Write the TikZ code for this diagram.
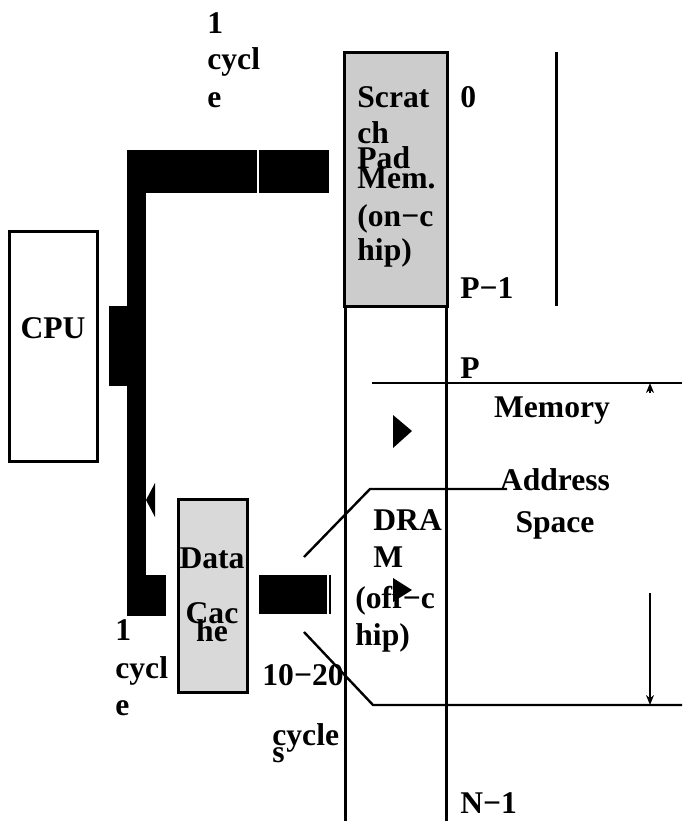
\documentclass[tikz,border=0pt]{standalone}
\usepackage{fontspec}
\setmainfont{Liberation Serif}
\usetikzlibrary{arrows.meta}

\begin{document}
\begin{tikzpicture}[x=0.5pt,y=-0.5pt,
    lbl/.style={inner sep=0pt,anchor=base west,font=\fontsize{15.8}{18}\selectfont\bfseries},
    box/.style={draw,line width=1.5pt},
    thin/.style={line width=1.2pt}]
  \useasboundingbox (0,0) rectangle (682,821);
  \clip (0,0) rectangle (682,821);

  % memory column
  \draw[line width=1.5pt] (345,306) -- (345,830) (446,306) -- (446,830);
  \draw[box,fill=black!20] (344,52) coordinate (spad) rectangle (447,306);
  \draw[line width=1.5pt] (556,52) -- (556,306);

  % cpu and cache
  \draw[box] (9,231) coordinate (cpubox) rectangle (97,461);
  \node[lbl,anchor=base] (cpu) at (53,338) {CPU};
  \draw[box,fill=black!15] (178,499) coordinate (cachebox) rectangle (247,692);

  % bus
  \fill (127,150) rectangle (329,193);
  \fill (127,150) rectangle (146,616);
  \fill (109,306) rectangle (127,386);
  \fill (127,575) rectangle (166,616);
  \fill (259,575) rectangle (331,614);
  \draw[white,line width=0.6pt] (258,150) -- (258,193) (328,575) -- (328,614);
  \fill (146,500) -- (155,483) -- (155,517) -- cycle;
  \fill (393,415) -- (412,431) -- (393,448) -- cycle;
  \fill (393,578) -- (412,590) -- (393,602) -- cycle;

  % address lines
  \draw[thin] (372,383) -- (682,383);
  \draw[thin] (304,557) -- (370,489) -- (507,489);
  \draw[thin] (304,632) -- (373,705) -- (682,705);
  \draw[thin,-{Stealth[length=5pt,width=4pt]}] (650,393) -- (650,383);
  \draw[thin,-{Stealth[length=5pt,width=4pt]}] (650,593) -- (650,705);

  % labels
  \node[lbl] (oc1) at (207,33) {1};
  \node[lbl] (oc2) at (207,69) {cycl};
  \node[lbl] (oc3) at (207,107) {e};
  \node[lbl] (sp1) at (357,107) {Scrat};
  \node[lbl] (sp2) at (357,143) {ch};
  \node[lbl] (sp3) at (357,168) {Pad};
  \node[lbl] (sp4) at (357,188) {Mem.};
  \node[lbl] (sp5) at (357,226) {(on−c};
  \node[lbl] (sp6) at (357,260) {hip)};
  \node[lbl] (a0) at (460,107) {0};
  \node[lbl] (ap1) at (460,298) {P−1};
  \node[lbl] (ap) at (460,378) {P};
  \node[lbl] (an1) at (460,813) {N−1};
  \node[lbl,anchor=base] (mem) at (552,417) {Memory};
  \node[lbl,anchor=base] (addr) at (555,490) {Address};
  \node[lbl,anchor=base] (space) at (555,532) {Space};
  \node[lbl] (dr1) at (373,530) {DRA};
  \node[lbl] (dr2) at (373,567) {M};
  \node[lbl] (dr3) at (355,608) {(off−c};
  \node[lbl] (dr4) at (355,645) {hip)};
  \node[lbl,anchor=base] (dc1) at (212,568) {Data};
  \node[lbl,anchor=base] (dc2) at (212,623) {Cac};
  \node[lbl,anchor=base] (dc3) at (212,641) {he};
  \node[lbl] (lc1) at (115,640) {1};
  \node[lbl] (lc2) at (115,678) {cycl};
  \node[lbl] (lc3) at (115,715) {e};
  \node[lbl] (dram1) at (262,685) {10−20};
  \node[lbl] (dram2) at (272,745) {cycle};
  \node[lbl] (dram3) at (272,762) {s};
\end{tikzpicture}
\end{document}
